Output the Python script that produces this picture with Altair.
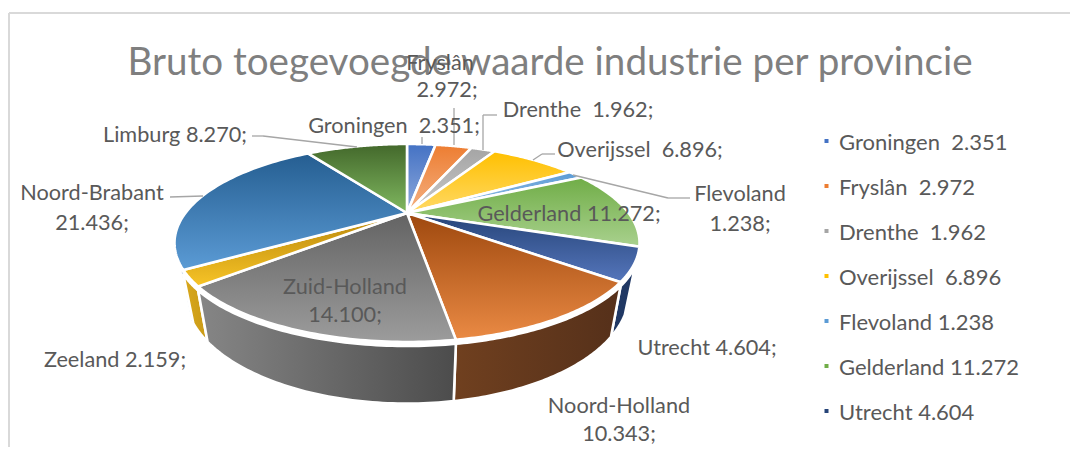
import math
import altair as alt
import pandas as pd

NB = "\u00a0 "
provinces = ["Groningen", "Fryslân", "Drenthe", "Overijssel", "Flevoland", "Gelderland", "Utrecht",
             "Noord-Holland", "Zuid-Holland", "Zeeland", "Noord-Brabant", "Limburg"]
values = [2351, 2972, 1962, 6896, 1238, 11272, 4604, 10343, 14100, 2159, 21436, 8270]
top_dark = ["#4472C4", "#ED7D31", "#A5A5A5", "#FFC000", "#5B9BD5", "#70AD47", "#264478", "#9E480E",
            "#636363", "#B8860B", "#255E91", "#43682B"]
top_light = ["#8FAADC", "#F4B183", "#C9C9C9", "#FFD966", "#9DC3E6", "#A9D18E", "#5576BC", "#EA8A44",
             "#9C9C9C", "#F7C427", "#5B9BD5", "#80B860"]
legend_colors = ["#4472C4", "#ED7D31", "#A5A5A5", "#FFC000", "#5B9BD5", "#70AD47", "#264478"]
legend_labels = ["Groningen" + NB + "2.351", "Fryslân" + NB + "2.972", "Drenthe" + NB + "1.962",
                 "Overijssel" + NB + "6.896", "Flevoland 1.238", "Gelderland 11.272", "Utrecht 4.604"]
title_text = "Bruto toegevoegde waarde industrie per provincie"

# page offset and pie camera
OFF = 8
CX, CY = 407 - OFF, 213 - OFF
R, H, K = 221.6, 89.9, -0.303
SHRINK, DROP = 0.955, 47


def top_pt(deg):
    a = math.radians(deg)
    X, Y = math.sin(a), -math.cos(a)
    w = 1 + K * Y
    return [CX + R * X / w, CY + H * Y / w]


def wall_pts(deg):
    a = math.radians(deg)
    X, Y = math.sin(a), -math.cos(a)
    w = 1 + K * Y
    return (CX + R * X / w, CY + H * Y / w + 4,
            CX + SHRINK * R * X / w, CY + SHRINK * H * Y / w + DROP / w)


def arc(a0, a1, n=60):
    return [a0 + (a1 - a0) * i / n for i in range(n + 1)]


def feature(ring):
    return {"type": "Feature", "properties": {},
            "geometry": {"type": "Polygon", "coordinates": [ring + [ring[0]]]}}


PROJ = alt.Projection(type="identity", scale=1, translate=[0, 0])
total = sum(values)
cum = [0]
for v in values:
    cum.append(cum[-1] + v)
angles = [c / total * 360 for c in cum]


def shape(ring, fill, sw=2.6):
    return (alt.Chart(alt.Data(values=[feature(ring)]))
            .mark_geoshape(fill=fill, stroke="white", strokeWidth=sw)
            .project(**PROJ.to_dict()))


def grad(c0, c1, vertical=True):
    return alt.LinearGradient(gradient="linear",
                              stops=[alt.GradientStop(color=c0, offset=0), alt.GradientStop(color=c1, offset=1)],
                              x1=0, y1=0, x2=0 if vertical else 1, y2=1 if vertical else 0)


def wall(a0, a1, c0, c1, sw=2.6):
    pts = [wall_pts(d) for d in arc(a0, a1)]
    ring = [[p[0], p[1]] for p in pts] + [[p[2], p[3]] for p in reversed(pts)]
    return shape(ring, grad(c0, c1, vertical=False), sw)


layers = []
# side walls (left and right colours as seen on the page)
layers.append(wall(angles[10], angles[10] + 1.4, "#5B9BD5", "#5B9BD5", 1))
layers.append(wall(angles[9], angles[10], "#D9A81C", "#C99A17"))
layers.append(wall(118, angles[7], "#203864", "#203864"))
layers.append(wall(angles[7], angles[8], "#70401F", "#55301A"))
layers.append(wall(angles[8], angles[9], "#868686", "#4C4C4C"))

# top faces
for i in range(len(values)):
    ring = [[CX, CY]] + [top_pt(d) for d in arc(angles[i], angles[i + 1])]
    layers.append(shape(ring, grad(top_dark[i], top_light[i])))

# frame
frame = pd.DataFrame({"x": [9 - OFF, 9 - OFF], "x2": [9 - OFF, 1078 - OFF], "y": [13 - OFF, 13 - OFF], "y2": [455 - OFF, 13 - OFF]})
layers.insert(0, alt.Chart(frame).mark_rule(color="#D9D9D9", strokeWidth=2).encode(
    x=alt.X("x:Q", scale=None), x2="x2:Q", y=alt.Y("y:Q", scale=None), y2="y2:Q"))

# leader lines: x, y, x2, y2 in page pixels
leaders = [(252, 136, 263, 136), (263, 136, 357, 147), (170, 197, 203, 196), (422, 137, 422, 144),
           (454, 108, 454, 145), (483, 150, 483, 115), (483, 115, 497, 115),
           (533, 160, 542, 154), (542, 154, 555, 154), (573, 175, 668, 198), (668, 198, 690, 198)]
lead = pd.DataFrame([{"x": a - OFF, "y": b - OFF, "x2": c - OFF, "y2": d - OFF} for a, b, c, d in leaders])
layers.append(alt.Chart(lead).mark_rule(color="#A6A6A6", strokeWidth=1.3).encode(
    x=alt.X("x:Q", scale=None), x2="x2:Q", y=alt.Y("y:Q", scale=None), y2="y2:Q"))

# title
title_df = pd.DataFrame({"t": [title_text], "x": [550 - OFF], "y": [63 - OFF]})
layers.append(alt.Chart(title_df).mark_text(font="Lato", fontSize=38.6, color="#7F7F7F", align="center", baseline="middle").encode(
    x=alt.X("x:Q", scale=None), y=alt.Y("y:Q", scale=None), text="t:N"))

# data labels: text, centre x, centre y in page pixels
labels = [("Fryslân", 440, 63), ("2.972;", 447, 90), ("Groningen" + NB + "2.351;", 394, 126), ("Drenthe" + NB + "1.962;", 578, 110),
          ("Overijssel" + NB + "6.896;", 640, 150), ("Flevoland", 740, 194), ("1.238;", 740, 224),
          ("Gelderland 11.272;", 569, 214), ("Limburg 8.270;", 175, 135), ("Noord-Brabant", 92, 193),
          ("21.436;", 92, 223), ("Zuid-Holland", 345, 287), ("14.100;", 345, 315), ("Zeeland 2.159;", 115, 360),
          ("Utrecht 4.604;", 707, 348), ("Noord-Holland", 619, 406), ("10.343;", 619, 434)]
lab = pd.DataFrame([{"t": t, "x": x - OFF, "y": y - OFF} for t, x, y in labels])
layers.append(alt.Chart(lab).mark_text(font="Lato", fontSize=21.7, color="#595959", align="center", baseline="middle").encode(
    x=alt.X("x:Q", scale=None), y=alt.Y("y:Q", scale=None), text="t:N"))

# legend
legend_y = [141, 186, 231, 276, 321, 366, 411]
leg = pd.DataFrame({"t": legend_labels, "c": legend_colors, "y": [v - OFF for v in legend_y]})
layers.append(alt.Chart(leg).mark_square(size=16, opacity=1).encode(
    x=alt.value(826.5 - OFF), y=alt.Y("y:Q", scale=None), color=alt.Color("c:N", scale=None)))
layers.append(alt.Chart(leg).mark_text(font="Lato", fontSize=22, color="#595959", align="left", baseline="middle").encode(
    x=alt.value(839 - OFF), y=alt.Y("y2:Q", scale=None), text="t:N").transform_calculate(y2="datum.y + 1.5"))

chart = (alt.layer(*layers)
         .properties(width=1062, height=439, padding=0, autosize=alt.AutoSizeParams(type="none"), background="white")
         .configure_view(stroke=None))
chart.save("out.html", embed_options={"renderer": "svg", "actions": False})
